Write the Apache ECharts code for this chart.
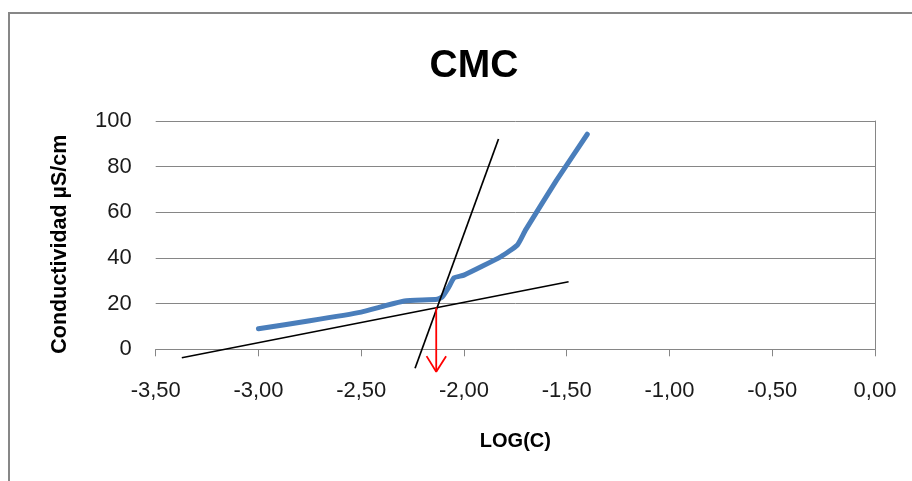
<!DOCTYPE html>
<html>
<head>
<meta charset="utf-8">
<script src="https://cdn.jsdelivr.net/npm/echarts@6/dist/echarts.min.js"></script>
<style>html,body{margin:0;padding:0;background:#fff}#c{width:912px;height:481px}</style>
</head>
<body>
<div id="c"></div>
<script>
// Data
const chartTitle = 'CMC';
const xAxisTitle = 'LOG(C)';
const yAxisTitle = 'Conductividad µS/cm';
const xTickLabels = ['-3,50', '-3,00', '-2,50', '-2,00', '-1,50', '-1,00', '-0,50', '0,00'];
const yTickLabels = ['0', '20', '40', '60', '80', '100'];
const logC = [-3.00, -2.75, -2.50, -2.40, -2.29, -2.13, -2.105, -2.073, -2.048, -2.00, -1.82, -1.74, -1.70, -1.55, -1.40];
const conductividad = [9.0, 12.5, 16.3, 18.7, 21.2, 21.9, 23.0, 27.4, 31.3, 32.5, 40.6, 45.7, 52.3, 74.0, 94.2];
const premicelarX = [-3.373, -1.491];
const premicelarY = [-3.7, 29.6];
const micelarX = [-2.238, -1.832];
const micelarY = [-8.3, 92.1];
const cmcX = [-2.135, -2.135];
const cmcY = [18.3, -9.8];
const arrowHeadX = [-2.182, -2.135, -2.087];
const arrowHeadY = [-3.0, -9.8, -3.0];

const zip = (xs, ys) => xs.map((x, i) => [x, ys[i]]);
const font = '"Liberation Sans", Arial, sans-serif';

const chart = echarts.init(document.getElementById('c'), null, {renderer: 'canvas'});
chart.setOption({
  animation: false,
  backgroundColor: '#ffffff',
  graphic: [{
    type: 'rect', z: -10,
    shape: {x: 9, y: 13, width: 1000, height: 1000},
    style: {fill: '#ffffff', stroke: '#878787', lineWidth: 2}
  }],
  title: {
    text: chartTitle,
    left: 469, top: 42, textAlign: 'center',
    textStyle: {fontFamily: font, fontWeight: 'bold', fontSize: 39, color: '#000'}
  },
  grid: {left: 155.7, right: 37, top: 121, bottom: 131.7, containLabel: false},
  xAxis: {
    type: 'value', min: -3.5, max: 0, interval: 0.5,
    name: xAxisTitle, nameLocation: 'middle', nameGap: 82,
    nameTextStyle: {fontFamily: font, fontWeight: 'bold', fontSize: 20, color: '#000'},
    axisLine: {show: true, onZero: true, lineStyle: {color: '#868686', width: 1}},
    axisTick: {show: true, length: 7, lineStyle: {color: '#868686'}},
    axisLabel: {
      margin: 31, fontFamily: font, fontSize: 22, color: '#1a1a1a',
      formatter: v => xTickLabels[Math.round((v + 3.5) / 0.5)]
    },
    splitLine: {show: false}
  },
  yAxis: {
    type: 'value', min: 0, max: 100, interval: 20,
    name: yAxisTitle, nameLocation: 'middle', nameGap: 85, nameRotate: 90,
    nameTextStyle: {fontFamily: font, fontWeight: 'bold', fontSize: 21.5, color: '#000', padding: [0, 18, 0, 0]},
    axisLine: {show: true, lineStyle: {color: '#868686', width: 1}},
    axisTick: {show: true, length: 7, lineStyle: {color: '#868686'}},
    axisLabel: {
      margin: 24, fontFamily: font, fontSize: 22, color: '#1a1a1a',
      formatter: v => yTickLabels[Math.round(v / 20)]
    },
    splitLine: {show: true, lineStyle: {color: '#868686', width: 1}}
  },
  series: [
    {
      type: 'line', data: zip(premicelarX, premicelarY), showSymbol: false, clip: false,
      lineStyle: {color: '#000', width: 1.7}, z: 3
    },
    {
      type: 'line', data: zip(micelarX, micelarY), showSymbol: false, clip: false,
      lineStyle: {color: '#000', width: 1.7}, z: 3
    },
    {
      type: 'line', data: zip(logC, conductividad), showSymbol: false, clip: false, smooth: 0.15,
      lineStyle: {color: '#4a7ebb', width: 5, cap: 'round', join: 'round'}, z: 2
    },
    {
      type: 'line', data: zip(cmcX, cmcY), showSymbol: false, clip: false,
      lineStyle: {color: '#ff0000', width: 1.8}, z: 4
    },
    {
      type: 'line', data: zip(arrowHeadX, arrowHeadY), showSymbol: false, clip: false,
      lineStyle: {color: '#ff0000', width: 1.8}, z: 4
    }
  ]
});
</script>
</body>
</html>
